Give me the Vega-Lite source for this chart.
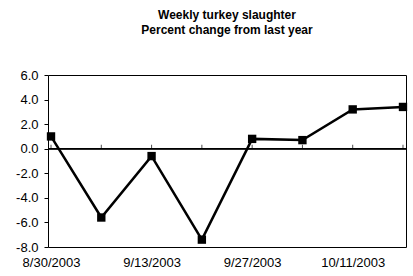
{
  "$schema": "https://vega.github.io/schema/vega-lite/v6.json",
  "width": 358,
  "height": 172,
  "autosize": "none",
  "padding": {"left": 48, "top": 75, "right": 7, "bottom": 29},
  "background": "white",
  "config": {
    "font": "Liberation Sans",
    "view": {"stroke": "black", "strokeWidth": 1}
  },
  "title": {
    "text": ["Weekly turkey slaughter", "Percent change from last year"],
    "font": "Liberation Sans",
    "fontSize": 12,
    "fontWeight": "bold",
    "color": "black",
    "lineHeight": 15,
    "anchor": "middle",
    "offset": 32
  },
  "data": {
    "values": [
      {"week": "8/30/2003", "pct": 1.0},
      {"week": "9/6/2003", "pct": -5.6},
      {"week": "9/13/2003", "pct": -0.6},
      {"week": "9/20/2003", "pct": -7.4},
      {"week": "9/27/2003", "pct": 0.8},
      {"week": "10/4/2003", "pct": 0.7},
      {"week": "10/11/2003", "pct": 3.2},
      {"week": "10/18/2003", "pct": 3.4}
    ]
  },
  "encoding": {
    "x": {
      "field": "week",
      "type": "ordinal",
      "sort": null,
      "scale": {"type": "point", "padding": 0.06},
      "axis": {
        "title": null,
        "labelAngle": 0,
        "labelFont": "Liberation Sans",
        "labelFontSize": 13,
        "labelColor": "black",
        "labelPadding": 9,
        "labelOverlap": false,
        "labelFlush": false,
        "values": ["8/30/2003", "9/13/2003", "9/27/2003", "10/11/2003"],
        "ticks": false,
        "domain": false
      }
    },
    "y": {
      "field": "pct",
      "type": "quantitative",
      "scale": {"domain": [-8, 6], "nice": false, "zero": false},
      "axis": {
        "title": null,
        "values": [-8, -6, -4, -2, 0, 2, 4, 6],
        "labelExpr": "replace(format(datum.value, '.1f'), '\u2212', '-')",
        "labelFont": "Liberation Sans",
        "labelFontSize": 13,
        "labelColor": "black",
        "labelOverlap": false,
        "labelFlush": false,
        "grid": false,
        "domain": false,
        "tickColor": "black",
        "tickSize": 4,
        "labelPadding": 6
      }
    }
  },
  "layer": [
    {
      "mark": {"type": "rule", "color": "black", "strokeWidth": 1},
      "encoding": {"x": null, "y": {"datum": 0, "type": "quantitative"}}
    },
    {
      "mark": {"type": "tick", "color": "black", "size": 4, "thickness": 1, "orient": "vertical", "yOffset": -2},
      "encoding": {"y": {"datum": 0, "type": "quantitative"}}
    },
    {
      "mark": {"type": "line", "color": "black", "strokeWidth": 2.5}
    },
    {
      "mark": {"type": "square", "color": "black", "opacity": 1, "filled": true, "size": 70}
    }
  ]
}
